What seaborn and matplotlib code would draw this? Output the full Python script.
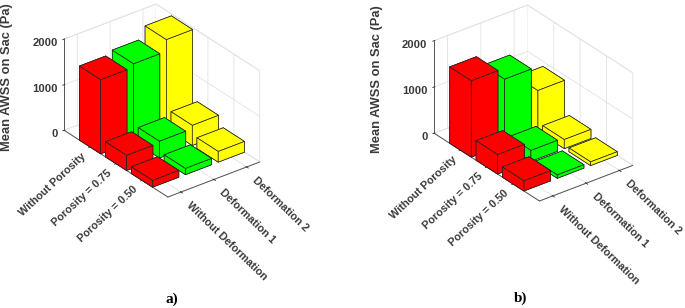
import matplotlib
matplotlib.use("Agg")
import matplotlib.pyplot as plt
import seaborn as sns

sns.set_theme(style="white")
plt.rcParams["font.family"] = ["Liberation Sans", "DejaVu Sans"]

porosity = ["Without Porosity", "Porosity = 0.75", "Porosity = 0.50"]
deformation = ["Without Deformation", "Deformation 1", "Deformation 2"]
series_colors = ["#ff0000", "#00ff00", "#ffff00"]
z_ticks = [0, 1000, 2000]

# rows: deformation, columns: porosity
panel_a = [[1626, 330, 147],
           [1700, 366, 135],
           [1956, 440, 234]]
panel_b = [[1650, 420, 220],
           [1410, 235, 73],
           [890, 196, 80]]

W, H = 685, 308
fig = plt.figure(figsize=(W / 100, H / 100), dpi=100, facecolor="white")
TXT = "#3a3a3a"
GRID = "#e2e2e2"


def panel(values, left_px, bottom_px, zoom):
    S = 220
    ax = fig.add_axes([left_px / W, bottom_px / H, S / W, S / H],
                      projection="3d", computed_zorder=False)
    ax.patch.set_alpha(0)
    ax.set_proj_type("ortho")
    ax.view_init(elev=29.7, azim=-37.6)
    ax.set_box_aspect((170, 116, 105), zoom=zoom)
    for j in [2, 1, 0]:
        for i in range(3):
            ax.bar3d(i + 1 - 0.41, j + 1 - 0.4, 0, 0.82, 0.8, values[j][i],
                     color=series_colors[j], shade=False,
                     edgecolor="#202020", linewidth=0.5)
    ax.set_xlim(0, 4)
    ax.set_ylim(0.6, 3.4)
    ax.set_zlim(0, 2000)
    ax.set_xticks([1, 2, 3])
    ax.set_yticks([1, 2, 3])
    ax.set_zticks(z_ticks)
    ax.set_xticklabels(porosity, rotation=43, ha="right", va="center",
                       rotation_mode="anchor", fontsize=7.8, fontweight="bold", color=TXT)
    ax.set_yticklabels(deformation, rotation=-44, ha="left", va="center",
                       rotation_mode="anchor", fontsize=7.8, fontweight="bold", color=TXT)
    ax.set_zticklabels([str(v) for v in z_ticks], fontsize=8.1, fontweight="bold", color=TXT,
                       ha="right")
    ax.zaxis.set_ticks_position("lower")
    ax.tick_params(axis="x", pad=-3)
    ax.tick_params(axis="y", pad=-2)
    ax.tick_params(axis="z", pad=-5.2)
    for a in (ax.xaxis, ax.yaxis, ax.zaxis):
        a.set_pane_color((1, 1, 1, 1))
        a.pane.set_edgecolor(GRID)
        a.pane.set_linewidth(0.6)
        a.line.set_color("#555555")
        a.line.set_linewidth(0.7)
        a._axinfo["grid"].update(color=GRID, linewidth=0.6)
        a._axinfo["tick"].update(color="#555555", linewidth={True: 0.6, False: 0.4})
    ax.grid(True)
    return ax


panel(panel_a, 49, 94.5, 1.0195)
panel(panel_b, 420.5, 92, 1.035)

for x, y in [(7, 77), (377, 79)]:
    fig.text(x / W, 1 - y / H, "Mean AWSS on Sac (Pa)", rotation=90, ha="center", va="center",
             fontsize=9.3, fontweight="bold", color=TXT)
fig.text(171.5 / W, 1 - 299 / H, "a)", ha="center", va="center", fontsize=11,
         fontweight="bold", family="Liberation Serif", color="black")
fig.text(521 / W, 1 - 298 / H, "b)", ha="center", va="center", fontsize=11,
         fontweight="bold", family="Liberation Serif", color="black")

fig.savefig("out.png", dpi=100)
